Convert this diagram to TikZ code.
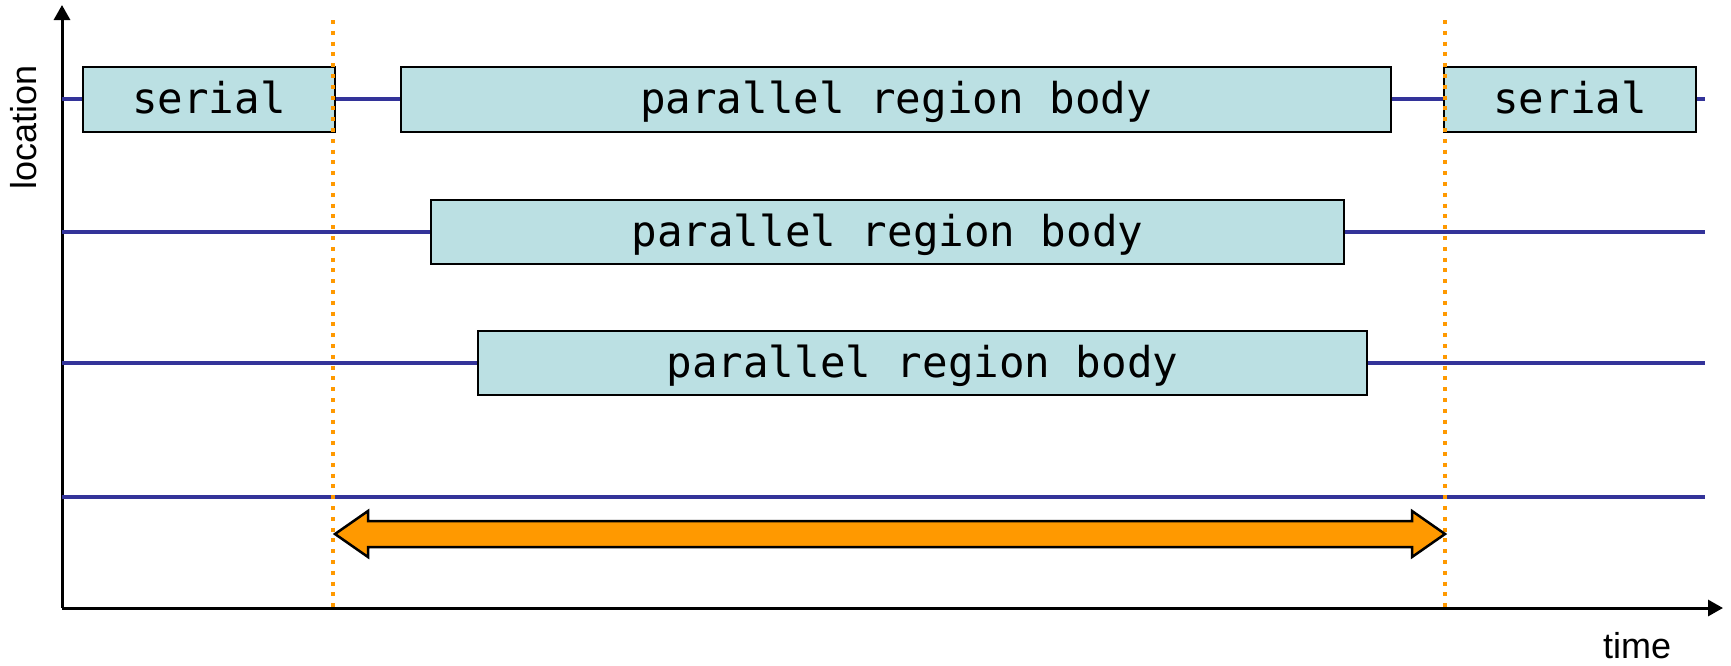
\documentclass[tikz,border=0pt]{standalone}
\usepackage{fontspec}
\setmainfont{Liberation Sans}
\setmonofont{DejaVu Sans Mono}
\usepackage{tikz}
\usetikzlibrary{arrows.meta, positioning, calc}
\usepackage{xcolor}
\definecolor{boxfill}{HTML}{BBE0E3}
\definecolor{thread}{HTML}{333399}
\definecolor{fork}{HTML}{FF9900}

\begin{document}
\begin{tikzpicture}[
    x=1pt, y=-1pt,
    region/.style={
        rectangle, draw, line width=2pt,
        minimum height=65pt, inner sep=0pt,
        text height=31pt, text depth=3pt,
        fill=boxfill, text=black,
        font=\ttfamily\fontsize{42.5}{50}\selectfont
    },
    lane/.style={line width=4pt, thread},
    axis/.style={line width=3pt, -{Triangle[length=15pt,width=16pt]}},
    sync/.style={line width=4.5pt, fork, dash pattern=on 4pt off 6.8pt},
    label/.style={font=\fontsize{36}{40}\selectfont},
]
\useasboundingbox (0,0) rectangle (1731,665);

% ── Axes ──────
\coordinate (origin) at (62,608);
\coordinate (ytop) at (62,5);
\coordinate (xend) at (1723,608);
\draw[axis] (origin) -- (ytop);
\draw[axis] (origin) -- (xend);
\node[label, rotate=90] (loc) at (24,127) {location};
\node[label] (time) at (1637,646) {time};

% ── Threads ──────
\foreach \i/\y in {1/99, 2/232, 3/363, 4/497} {
    \coordinate (s\i) at (62,\y);
    \coordinate (e\i) at (1705,\y);
    \draw[lane] (s\i) -- (e\i);
}

% ── Regions ──────
\node[region, minimum width=252pt] (ser1) at (209,99.5) {serial};
\node[region, minimum width=990pt] (par1) at (896,99.5) {parallel region body};
\node[region, minimum width=252pt] (ser2) at (1570,99.5) {serial};
\node[region, minimum width=913pt, minimum height=64pt] (par2) at (887.5,232) {parallel region body};
\node[region, minimum width=889pt, minimum height=64pt] (par3) at (922.5,363) {parallel region body};

% ── Fork / join ──────
\coordinate (forktop) at (333,20);
\coordinate (forkbot) at (333,608);
\coordinate (jointop) at (1445,20);
\coordinate (joinbot) at (1445,608);
\draw[sync] (forktop) -- (forkbot);
\draw[sync] (jointop) -- (joinbot);

\coordinate (tl) at (335,534);
\coordinate (tr) at (1445,534);
\draw[line width=2.5pt, fill=fork, line join=miter]
    (tl) -- ($(tl)+(33,-23)$) -- ($(tl)+(33,-13)$) -- ($(tr)+(-33,-13)$)
    -- ($(tr)+(-33,-23)$) -- (tr) -- ($(tr)+(-33,23)$) -- ($(tr)+(-33,13)$)
    -- ($(tl)+(33,13)$) -- ($(tl)+(33,23)$) -- cycle;

\end{tikzpicture}
\end{document}
